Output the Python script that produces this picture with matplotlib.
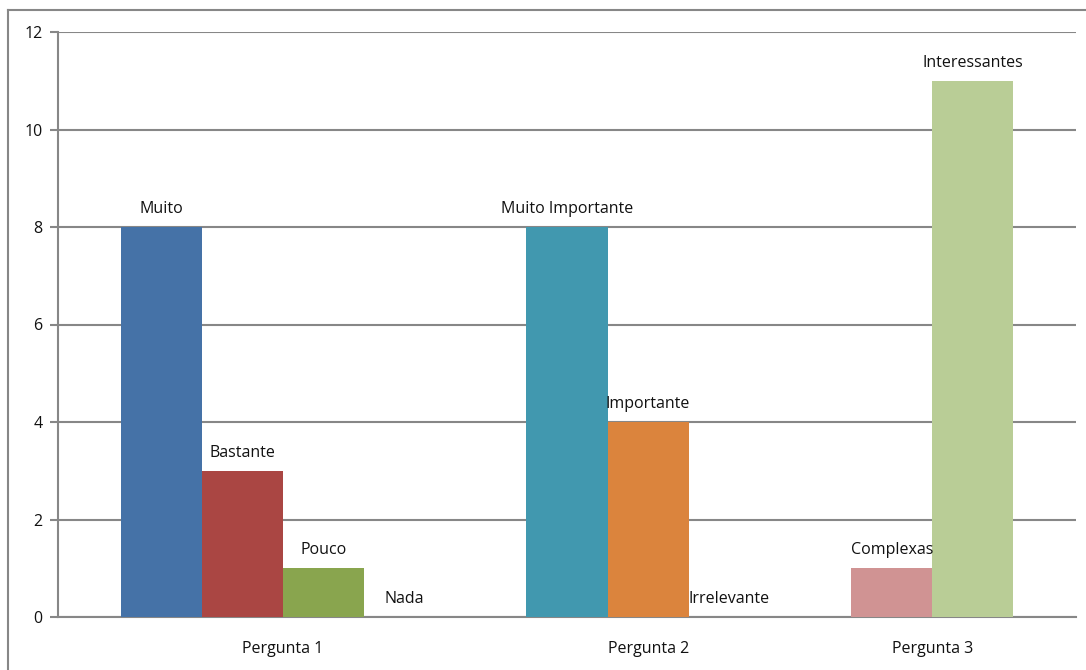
import matplotlib
matplotlib.use("Agg")
import matplotlib.pyplot as plt
from matplotlib.lines import Line2D

# dados das respostas por pergunta
perguntas = ["Pergunta 1", "Pergunta 2", "Pergunta 3"]

respostas_p1 = ["Muito", "Bastante", "Pouco", "Nada"]
valores_p1 = [8, 3, 1, 0]
cores_p1 = ["#4572A7", "#AA4643", "#89A54E", "#71588F"]

respostas_p2 = ["Muito Importante", "Importante", "Irrelevante"]
valores_p2 = [8, 4, 0]
cores_p2 = ["#4198AF", "#DB843D", "#93A9CF"]

respostas_p3 = ["Complexas", "Interessantes"]
valores_p3 = [1, 11]
cores_p3 = ["#D09393", "#B9CD96"]

grupos = [
    (respostas_p1, valores_p1, cores_p1),
    (respostas_p2, valores_p2, cores_p2),
    (respostas_p3, valores_p3, cores_p3),
]

plt.rcParams["font.family"] = ["Open Sans", "DejaVu Sans"]

fig = plt.figure(figsize=(10.86, 6.70), dpi=100)
ax = fig.add_axes([58 / 1086, 53 / 670, 1018 / 1086, 585 / 670])

cinza = "#878787"
texto = "#111111"
margem = 0.77
espaco = 1.0
largura = 1.0

x = margem
centros = []
for nomes, valores, cores in grupos:
    inicio = x
    for nome, valor, cor in zip(nomes, valores, cores):
        ax.bar(x, valor, width=largura, align="edge", color=cor, zorder=3)
        ax.text(x + largura / 2, valor + 0.2, nome, ha="center", va="bottom",
                fontsize=11.5, color=texto, zorder=4)
        x += largura
    centros.append((inicio + x) / 2)
    x += espaco
x_fim = x - espaco + margem

ax.set_xlim(0, x_fim)
ax.set_ylim(0, 12)
ax.set_yticks(range(0, 13, 2))
ax.set_xticks(centros)
ax.set_xticklabels(perguntas)

ax.yaxis.grid(True, color=cinza, linewidth=1.5, zorder=1)
for lado in ["top", "right"]:
    ax.spines[lado].set_visible(False)
ax.spines["left"].set_color(cinza)
ax.spines["left"].set_linewidth(1.5)
ax.spines["bottom"].set_color(cinza)
ax.spines["bottom"].set_linewidth(1.5)

ax.tick_params(axis="y", length=6, width=1.5, color=cinza, pad=5,
               labelsize=11.5, labelcolor=texto)
ax.tick_params(axis="x", length=0, pad=17, labelsize=11.5,
               labelcolor=texto)

# moldura externa do gráfico
fig.add_artist(Line2D([8 / 1086, 8 / 1086], [0, 660 / 670],
                      transform=fig.transFigure, color=cinza, linewidth=1.5))
fig.add_artist(Line2D([8 / 1086, 1], [660 / 670, 660 / 670],
                      transform=fig.transFigure, color=cinza, linewidth=1.5))

fig.savefig("out.png", dpi=100)
